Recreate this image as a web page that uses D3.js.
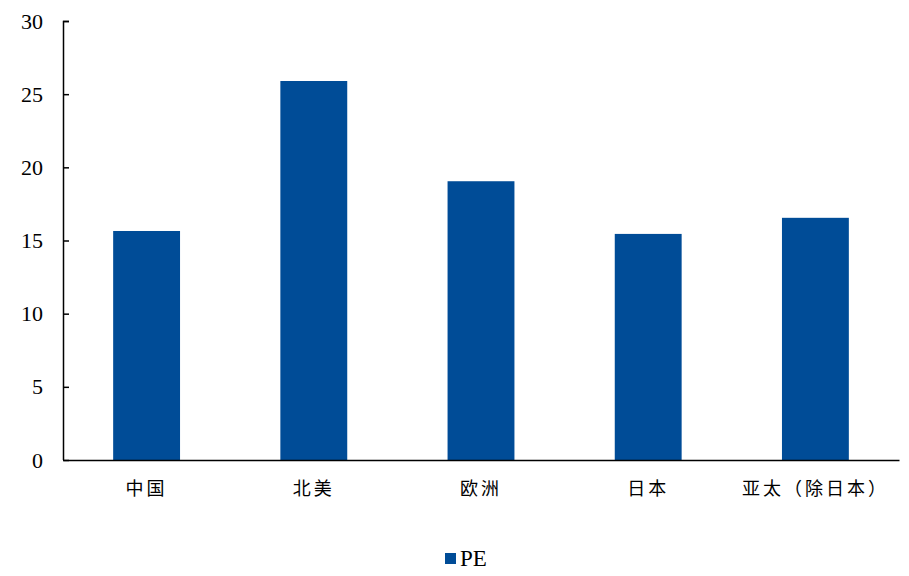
<!DOCTYPE html>
<html>
<head>
<meta charset="utf-8">
<script src="https://cdn.jsdelivr.net/npm/d3@7"></script>
<style>
  body { margin: 0; background: #fff; }
</style>
</head>
<body>
<div id="chart"></div>
<script>
// data
const regions = ["中国", "北美", "欧洲", "日本", "亚太（除日本）"];
const peValues = [15.65, 25.9, 19.05, 15.45, 16.55];
const yTicks = [0, 5, 10, 15, 20, 25, 30];
const seriesName = "PE";

const W = 909, H = 576;
const margin = {top: 21, right: 10, bottom: 116, left: 63};
const width = 899 - margin.left,
    height = 460 - margin.top;

const svg = d3.select("#chart")
    .append("svg")
    .attr("width", W)
    .attr("height", H);

const g = svg.append("g")
    .attr("transform", `translate(${margin.left},${margin.top})`);

const x = d3.scaleBand()
    .domain(regions)
    .range([0, width])
    .paddingInner(0.6)
    .paddingOuter(0.3);

const y = d3.scaleLinear()
    .domain([0, 30])
    .range([height, 0]);

// bars
g.selectAll("rect.bar")
    .data(peValues)
    .join("rect")
    .attr("class", "bar")
    .attr("x", (d, i) => x(regions[i]))
    .attr("y", d => y(d))
    .attr("width", x.bandwidth())
    .attr("height", d => height - y(d))
    .attr("fill", "#004C97");

// y axis, ticks pointing inward
const yAxis = g.append("g")
    .call(d3.axisRight(y).tickValues(yTicks).tickSize(6).tickFormat(d3.format("d")));
yAxis.select(".domain").attr("stroke", "#000").attr("stroke-width", 1.5)
    .attr("d", `M6,0.5H0.5V${height}`);
yAxis.selectAll(".tick line").attr("stroke", "#000").attr("stroke-width", 1.5);
yAxis.selectAll(".tick text")
    .attr("x", -20)
    .attr("text-anchor", "end")
    .style("font-family", "'Liberation Serif', 'Times New Roman', serif")
    .style("font-size", "22px")
    .attr("fill", "#000");

// x axis
const xAxis = g.append("g")
    .attr("transform", `translate(0,${height})`)
    .call(d3.axisBottom(x).tickSize(0).tickPadding(22));
xAxis.select(".domain").attr("stroke", "#000").attr("stroke-width", 1.5);
xAxis.selectAll(".tick text")
    .style("font-family", "'Noto Sans CJK SC', sans-serif")
    .style("font-size", "18px")
    .style("letter-spacing", "3px")
    .attr("fill", "#000");

// legend
const legend = svg.append("g").attr("transform", "translate(445,553)");
legend.append("rect")
    .attr("width", 11)
    .attr("height", 11)
    .attr("fill", "#004C97");
legend.append("text")
    .attr("x", 15)
    .attr("y", 13)
    .style("font-family", "'Liberation Serif', 'Times New Roman', serif")
    .style("font-size", "23px")
    .text(seriesName);
</script>
</body>
</html>
